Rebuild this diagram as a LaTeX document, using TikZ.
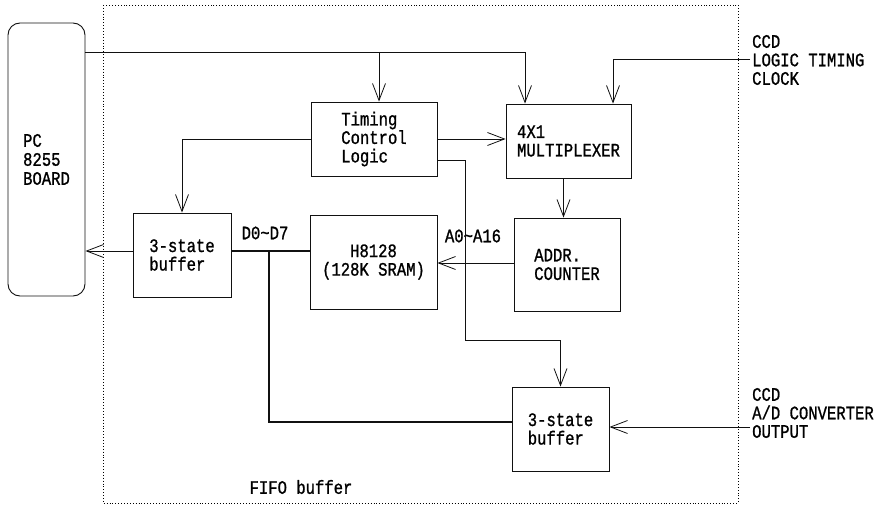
\documentclass[tikz,border=0pt]{standalone}
\usepackage{fontspec}
\usepackage{tikz}
\usetikzlibrary{
  arrows.meta,
  positioning,
  calc,
}
\newfontfamily\diagfont[FakeStretch=0.82,FakeBold=1]{Liberation Mono}
\definecolor{inkline}{HTML}{111111}
\tikzset{
  blockbox/.style={
    rectangle, draw=inkline, line width=0.9pt, inner sep=0pt,
    align=left, font=\diagfont\fontsize{19}{18.5}\selectfont,
  },
  boardbox/.style={
    rectangle, rounded corners=12pt, draw=inkline, line width=0.9pt,
    inner sep=0pt, align=left, font=\diagfont\fontsize{19}{19}\selectfont,
  },
  plainlabel/.style={
    inner sep=2pt, align=left, font=\diagfont\fontsize{19}{18.5}\selectfont,
  },
  arrowOpen/.style={
    -{Straight Barb[length=17pt,width=13pt]}, line width=0.8pt, draw=inkline,
  },
  busThick/.style={
    line width=2.6pt, draw=inkline,
  },
}

\begin{document}
\begin{tikzpicture}[x=1pt,y=-1pt]
\useasboundingbox (0,0) rectangle (883,513);

\draw[dotted, line width=0.9pt] (103,5) rectangle (738,503);

\node[boardbox, minimum width=77pt, minimum height=273pt] (pc) at (46.5,159.5) {PC\\8255\\BOARD};
\node[blockbox, minimum width=126pt, minimum height=74pt] (timing) at (374,139) {Timing\\Control\\Logic};
\node[blockbox, minimum width=125pt, minimum height=74pt] (mux) at (568.5,141) {4X1\\MULTIPLEXER};
\node[blockbox, minimum width=98pt, minimum height=84pt] (bufL) at (182,255) {3-state\\buffer};
\node[blockbox, minimum width=127pt, minimum height=94pt, align=center] (sram) at (373.5,262) {H8128\\(128K SRAM)};
\node[blockbox, minimum width=106pt, minimum height=93pt] (addr) at (567,264.5) {ADDR.\\COUNTER};
\node[blockbox, minimum width=97pt, minimum height=84pt] (bufR) at (560.5,429) {3-state\\buffer};

\node[plainlabel, anchor=west] (clk) at (750,60) {CCD\\LOGIC TIMING\\CLOCK};
\node[plainlabel, anchor=west] (adc) at (750,413) {CCD\\A/D CONVERTER\\OUTPUT};
\node[plainlabel] (dlab) at (265,233) {D0\textasciitilde D7};
\node[plainlabel] (alab) at (473,236) {A0\textasciitilde A16};
\node[plainlabel] (fifo) at (301,487) {FIFO buffer};

\coordinate (bus) at (100,52);
\coordinate (tap) at (465,340);
\coordinate (dj) at (269,251);

\draw[arrowOpen] (pc.east |- bus) -| ([xshift=-43.5pt]mux.north);
\draw[arrowOpen] ([xshift=5pt]timing.north |- bus) -- ([xshift=5pt]timing.north);
\draw[arrowOpen] ([yshift=1pt]clk.west) -| ([xshift=44.5pt]mux.north);
\draw[arrowOpen] (timing.east) -- (timing.east -| mux.west);
\draw[arrowOpen] (timing.west) -| (bufL.north);
\draw[arrowOpen] ([yshift=-21pt]timing.east) -| (tap) -| (bufR.north);
\draw[arrowOpen] ([yshift=4pt]bufL.west) -- ([yshift=4pt]bufL.west -| pc.east);
\draw[arrowOpen] ([xshift=-5pt]mux.south) -- ([xshift=-5pt]mux.south |- addr.north);
\draw[arrowOpen] ([yshift=1.5pt]addr.west) -- ([yshift=1.5pt]addr.west -| sram.east);
\draw[arrowOpen] ([yshift=-14pt]adc.west) -- ([yshift=-14pt]adc.west -| bufR.east);

\draw[busThick] (bufL.east |- dj) -- (sram.west |- dj);
\draw[busThick] (dj) |- ([yshift=7pt]bufR.west);

\end{tikzpicture}
\end{document}
